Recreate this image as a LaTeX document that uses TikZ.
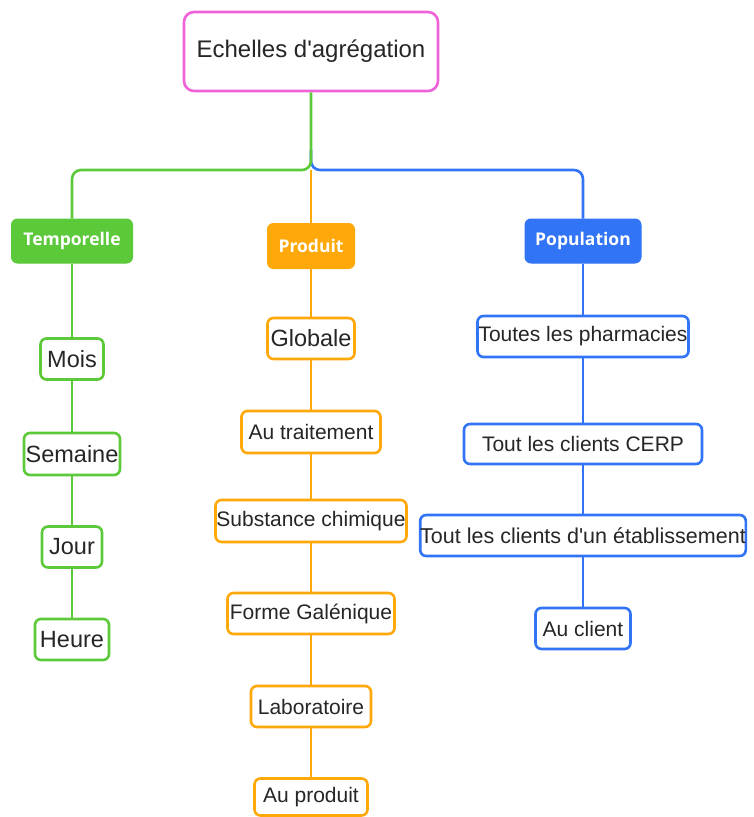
\documentclass[tikz,border=0pt]{standalone}
\usepackage{fontspec}
\setmainfont{Liberation Sans}
\newfontfamily\hdrfont{Open Sans}
\definecolor{cgreen}{HTML}{5CC93B}
\definecolor{corange}{HTML}{FFA80A}
\definecolor{cblue}{HTML}{3274F6}
\definecolor{cpink}{HTML}{EF62D8}
\begin{document}
\begin{tikzpicture}[x=1pt,y=-1pt,
  box/.style={draw=#1,line width=2.6pt,rounded corners=6pt,fill=white,inner sep=0pt,align=center,text=black!85},
  hdr/.style={fill=#1,draw=#1,line width=1pt,rounded corners=6pt,inner sep=0pt,text=white,font=\hdrfont\bfseries\fontsize{17.5}{20}\selectfont},
  link/.style={draw=#1,line width=2.6pt},
  big/.style={font=\fontsize{23.5}{26}\selectfont},
  med/.style={font=\fontsize{21}{24}\selectfont}]
\useasboundingbox (0,0) rectangle (753,817);
% root
\node[box=cpink,minimum width=254pt,minimum height=79pt,rounded corners=10pt,font=\fontsize{24}{27}\selectfont] (root) at (311,51.5) {Echelles d\textquotesingle agrégation};
% headers
\node[hdr=cgreen,minimum width=121pt,minimum height=44pt] (tmp) at (72,241) {Temporelle};
\node[hdr=corange,minimum width=87pt,minimum height=45pt] (prod) at (311,246) {Produit};
\node[hdr=cblue,minimum width=116pt,minimum height=44pt] (pop) at (583,241) {Population};
\coordinate (j) at (311,170);
% branch connectors
\draw[link=corange] (j) -- (prod.north);
\draw[link=cblue,rounded corners=9pt] (311,150) -- (j) -- (pop.north |- j) -- (pop.north);
\draw[link=cgreen,rounded corners=9pt] (root.south) -- (j) -- (tmp.north |- j) -- (tmp.north);
% green column
\node[box=cgreen,big,minimum width=63pt,minimum height=41pt] (mois) at (72,359) {Mois};
\node[box=cgreen,big,minimum width=96pt,minimum height=42pt] (sem) at (72,454) {Semaine};
\node[box=cgreen,big,minimum width=60pt,minimum height=41pt] (jour) at (72,547) {Jour};
\node[box=cgreen,big,minimum width=74pt,minimum height=41pt] (heure) at (72,639.5) {Heure};
% orange column
\node[box=corange,big,minimum width=87pt,minimum height=41pt] (glob) at (311,338.5) {Globale};
\node[box=corange,med,minimum width=139pt,minimum height=42pt] (trait) at (311,432) {Au traitement};
\node[box=corange,med,minimum width=191pt,minimum height=42pt] (subst) at (311,521) {Substance chimique};
\node[box=corange,med,minimum width=167pt,minimum height=41pt] (forme) at (311,613.5) {Forme Galénique};
\node[box=corange,med,minimum width=120pt,minimum height=41pt] (labo) at (311,706.5) {Laboratoire};
\node[box=corange,med,minimum width=113pt,minimum height=37pt] (prodt) at (311,797) {Au produit};
% blue column
\node[box=cblue,med,minimum width=211pt,minimum height=41pt] (toutes) at (583,336.5) {Toutes les pharmacies};
\node[box=cblue,med,minimum width=238pt,minimum height=40pt] (cerp) at (583,444) {Tout les clients CERP};
\node[box=cblue,font=\fontsize{21.5}{24}\selectfont,minimum width=313pt,minimum height=41pt] (etab) at (583,535.5) {Tout les clients d\textquotesingle un établissement};
\node[box=cblue,med,minimum width=95pt,minimum height=41pt] (client) at (583,628.5) {Au client};
% column links
\draw[link=cgreen] (tmp.south) -- (mois.north);
\draw[link=cgreen] (mois.south) -- (sem.north);
\draw[link=cgreen] (sem.south) -- (jour.north);
\draw[link=cgreen] (jour.south) -- (heure.north);
\draw[link=corange] (prod.south) -- (glob.north);
\draw[link=corange] (glob.south) -- (trait.north);
\draw[link=corange] (trait.south) -- (subst.north);
\draw[link=corange] (subst.south) -- (forme.north);
\draw[link=corange] (forme.south) -- (labo.north);
\draw[link=corange] (labo.south) -- (prodt.north);
\draw[link=cblue] (pop.south) -- (toutes.north);
\draw[link=cblue] (toutes.south) -- (cerp.north);
\draw[link=cblue] (cerp.south) -- (etab.north);
\draw[link=cblue] (etab.south) -- (client.north);
\end{tikzpicture}
\end{document}
